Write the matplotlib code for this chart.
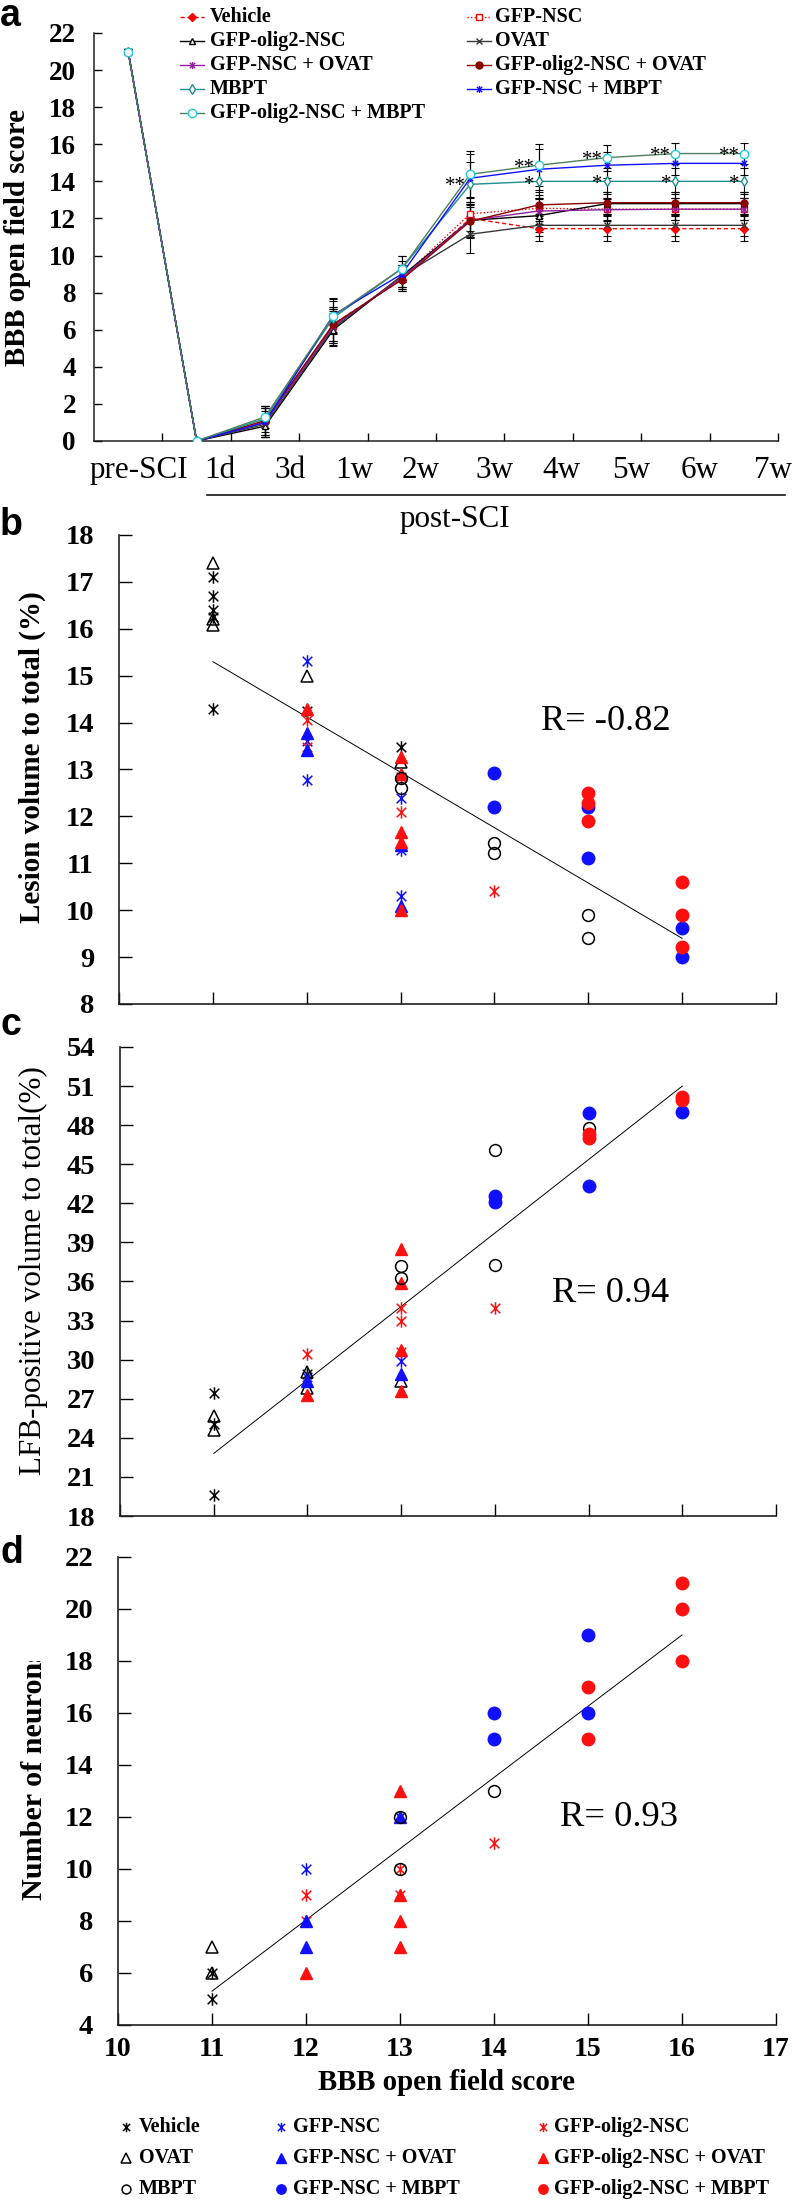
import numpy as np
import matplotlib
matplotlib.use('Agg')
import matplotlib.pyplot as plt
from matplotlib.path import Path
from matplotlib.lines import Line2D
from matplotlib.transforms import Bbox

plt.rcParams['font.family'] = ['Liberation Serif', 'DejaVu Serif']

W, H, DPI = 793, 2200, 100

# ---------------- Panel a data ----------------
timepoints = ['pre-SCI', '1d', '3d', '1w', '2w', '3w', '4w', '5w', '6w', '7w']
groups = ['Vehicle', 'GFP-NSC', 'GFP-olig2-NSC', 'OVAT', 'GFP-NSC + OVAT',
          'GFP-olig2-NSC + OVAT', 'MBPT', 'GFP-NSC + MBPT', 'GFP-olig2-NSC + MBPT']

bbb_vehicle = [21, 0, 1.0, 6.3, 8.7, 12.0, 11.45, 11.45, 11.45, 11.45]
bbb_nsc = [21, 0, 1.1, 6.2, 8.8, 12.25, 12.55, 12.5, 12.5, 12.5]
bbb_olig2 = [21, 0, 0.8, 6.0, 8.9, 11.9, 12.15, 12.8, 12.8, 12.8]
bbb_ovat = [21, 0, 0.9, 6.1, 8.9, 11.15, 11.63, 11.63, 11.63, 11.63]
bbb_nsc_ovat = [21, 0, 1.0, 6.2, 8.8, 11.9, 12.4, 12.47, 12.5, 12.5]
bbb_olig2_ovat = [21, 0, 1.1, 6.3, 8.7, 11.85, 12.73, 12.85, 12.85, 12.85]
bbb_mbpt = [21, 0, 1.2, 6.65, 9.3, 13.84, 14.0, 14.0, 14.0, 14.0]
bbb_nsc_mbpt = [21, 0, 1.0, 6.8, 9.0, 14.17, 14.65, 14.87, 14.97, 14.97]
bbb_olig2_mbpt = [21, 0, 1.3, 6.75, 9.3, 14.38, 14.87, 15.28, 15.5, 15.5]

err_vehicle = [0.15, 0, 0.8, 0.9, 0.6, 0.9, 0.67, 0.67, 0.67, 0.67]
err_nsc = [0.15, 0, 0.8, 0.9, 0.6, 0.9, 0.7, 0.6, 0.6, 0.6]
err_olig2 = [0.15, 0, 0.6, 0.9, 0.6, 0.9, 0.9, 0.6, 0.6, 0.6]
err_ovat = [0.15, 0, 0.7, 0.9, 0.6, 1.0, 0.6, 0.6, 0.6, 0.6]
err_nsc_ovat = [0.15, 0, 0.8, 0.9, 0.6, 0.9, 0.7, 0.6, 0.6, 0.6]
err_olig2_ovat = [0.15, 0, 0.8, 0.9, 0.6, 0.9, 0.7, 0.6, 0.6, 0.6]
err_mbpt = [0.15, 0, 0.7, 0.9, 0.7, 1.2, 0.9, 0.7, 0.7, 0.7]
err_nsc_mbpt = [0.15, 0, 0.8, 0.9, 0.7, 1.3, 1.1, 0.7, 0.6, 0.6]
err_olig2_mbpt = [0.15, 0, 0.6, 0.9, 0.7, 1.27, 1.13, 0.7, 0.55, 0.55]

# significance marks (timepoint index, y position)
star2_idx = [5, 6, 7, 8, 9]
star2_y = [14.0, 15.0, 15.45, 15.65, 15.65]
star1_idx = [6, 7, 8, 9]
star1_y = [14.1, 14.15, 14.15, 14.15]

# ---------------- Panel b data (lesion volume %) ----------------
b_vehicle_x = [11, 11, 11, 11, 11, 12, 13]
b_vehicle_y = [17.11, 16.7, 16.4, 16.26, 14.3, 14.25, 13.49]
b_nsc_x = [12, 12, 12, 13, 13, 13]
b_nsc_y = [15.31, 13.6, 12.78, 12.39, 11.28, 10.3]
b_olig2_x = [12, 12, 13, 13, 14]
b_olig2_y = [14.05, 13.47, 12.85, 12.1, 10.4]
b_ovat_x = [11, 11, 11, 12, 13]
b_ovat_y = [17.4, 16.2, 16.08, 15.0, 13.17]
b_nsc_ovat_x = [12, 12, 13, 13]
b_nsc_ovat_y = [13.78, 13.42, 11.39, 10.1]
b_olig2_ovat_x = [12, 13, 13, 13, 13, 13]
b_olig2_ovat_y = [14.3, 13.27, 12.9, 11.67, 11.46, 10.0]
b_mbpt_x = [13, 13, 14, 14, 15, 15]
b_mbpt_y = [12.81, 12.6, 11.43, 11.21, 9.9, 9.4]
b_nsc_mbpt_x = [14, 14, 15, 15, 16, 16]
b_nsc_mbpt_y = [12.92, 12.21, 12.19, 11.11, 9.61, 9.0]
b_olig2_mbpt_x = [15, 15, 15, 16, 16, 16]
b_olig2_mbpt_y = [12.5, 12.28, 11.91, 10.61, 9.9, 9.22]
fit_b = (-1.18, 28.28)
r_b = 'R= -0.82'

# ---------------- Panel c data (LFB-positive volume %) ----------------
c_vehicle_x = [11, 11, 11, 12]
c_vehicle_y = [27.47, 25.1, 19.6, 28.9]
c_nsc_x = [12, 13]
c_nsc_y = [28.67, 29.9]
c_olig2_x = [12, 13, 13, 13, 14]
c_olig2_y = [30.45, 34.0, 32.95, 30.6, 33.95]
c_ovat_x = [11, 11, 12, 12, 13]
c_ovat_y = [25.7, 24.6, 29.05, 27.8, 28.4]
c_nsc_ovat_x = [12, 13]
c_nsc_ovat_y = [28.4, 28.9]
c_olig2_ovat_x = [12, 13, 13, 13, 13]
c_olig2_ovat_y = [27.27, 38.5, 35.9, 30.75, 27.6]
c_mbpt_x = [13, 13, 14, 14, 15]
c_mbpt_y = [37.2, 36.3, 46.1, 37.3, 47.8]
c_nsc_mbpt_x = [14, 14, 15, 15, 16]
c_nsc_mbpt_y = [42.6, 42.1, 48.95, 43.3, 49.0]
c_olig2_mbpt_x = [15, 15, 16, 16]
c_olig2_mbpt_y = [47.3, 47.0, 50.17, 49.9]
fit_c = (5.64, -39.24)
r_c = 'R= 0.94'

# ---------------- Panel d data (number of neurons) ----------------
d_vehicle_x = [11, 11]
d_vehicle_y = [6, 5]
d_nsc_x = [12, 13]
d_nsc_y = [10, 12]
d_olig2_x = [12, 12, 13, 13, 14]
d_olig2_y = [9, 8, 10, 9, 11]
d_ovat_x = [11, 11]
d_ovat_y = [7, 6]
d_nsc_ovat_x = [12, 12, 13]
d_nsc_ovat_y = [8, 7, 12]
d_olig2_ovat_x = [12, 13, 13, 13, 13]
d_olig2_ovat_y = [6, 13, 9, 8, 7]
d_mbpt_x = [13, 13, 14]
d_mbpt_y = [12, 10, 13]
d_nsc_mbpt_x = [14, 14, 15, 15]
d_nsc_mbpt_y = [16, 15, 19, 16]
d_olig2_mbpt_x = [15, 15, 16, 16, 16]
d_olig2_mbpt_y = [17, 15, 21, 20, 18]
fit_d = (2.74, -24.84)
r_d = 'R= 0.93'

fit_range = [11, 16]

# ---------------- helpers ----------------
def fx(px):
    return px / W


def fy(py):
    return 1 - py / H


def add_axes(l, r, t, b):
    return fig.add_axes([fx(l), fy(b), (r - l) / W, (b - t) / H])


AST = Path([(-1, -1), (1, 1), (-1, 1), (1, -1), (0, -1.3), (0, 1.3)],
           [Path.MOVETO, Path.LINETO, Path.MOVETO, Path.LINETO, Path.MOVETO, Path.LINETO])

fig = plt.figure(figsize=(W / DPI, H / DPI), dpi=DPI)
fig.patch.set_facecolor('white')
renderer = fig.canvas.get_renderer()


def fit_text(t, target, vertical=False):
    """Scale a text's font so that its rendered length matches target pixels."""
    for _ in range(2):
        bb = t.get_window_extent(renderer)
        cur = bb.height if vertical else bb.width
        if cur > 0:
            t.set_fontsize(t.get_fontsize() * target / cur)


# ================= Panel a =================
axa = add_axes(94, 778, 33, 441)
series_a = [bbb_vehicle, bbb_nsc, bbb_olig2, bbb_ovat, bbb_nsc_ovat,
            bbb_olig2_ovat, bbb_mbpt, bbb_nsc_mbpt, bbb_olig2_mbpt]
errs_a = [err_vehicle, err_nsc, err_olig2, err_ovat, err_nsc_ovat,
          err_olig2_ovat, err_mbpt, err_nsc_mbpt, err_olig2_mbpt]
styles_a = [
    dict(color='#ff0000', ls=(0, (3, 2)), marker='D', ms=4, mfc='#ff0000', mec='#ff0000'),
    dict(color='#ff0000', ls=(0, (1, 1.5)), marker='s', ms=5, mfc='white', mec='#ff0000'),
    dict(color='#000000', ls='-', marker='^', ms=5, mfc='white', mec='#000000'),
    dict(color='#3a3a3a', ls='-', marker='x', ms=4, mfc='none', mec='#3a3a3a'),
    dict(color='#8e1f9e', ls='-', marker=AST, ms=5, mfc='none', mec='#8e1f9e'),
    dict(color='#8b0000', ls='-', marker='o', ms=5, mfc='#8b0000', mec='#8b0000'),
    dict(color='#1f8f8f', ls='-', marker='d', ms=5, mfc='white', mec='#1f8f8f'),
    dict(color='#1010ff', ls='-', marker=AST, ms=5, mfc='none', mec='#1010ff'),
    dict(color='#4f7f5f', ls='-', marker='o', ms=6, mfc='white', mec='#20d0e0'),
]
xpos = np.arange(len(timepoints)) + 0.5
for vals, err in zip(series_a, errs_a):
    axa.errorbar(xpos, vals, yerr=err, fmt='none', ecolor='black', elinewidth=0.8,
                 capsize=3, capthick=0.8, zorder=2)
for vals, st in zip(series_a, styles_a):
    axa.plot(xpos, vals, lw=1.0, mew=1.0, zorder=3, **st)

for i, yv in zip(star2_idx, star2_y):
    axa.text(xpos[i] - 0.06, yv - 0.3, '**', ha='right', va='center', fontsize=15, zorder=4)
for i, yv in zip(star1_idx, star1_y):
    axa.text(xpos[i] - 0.06, yv - 0.3, '*', ha='right', va='center', fontsize=15, zorder=4)

axa.set_xlim(0, len(timepoints))
axa.set_ylim(0, 22)
axa.set_yticks(np.arange(0, 23, 2))
axa.set_xticks(np.arange(1, len(timepoints) + 1))
axa.set_xticklabels([])

# size of time labels fitted to the reference width of "pre-SCI" (99 px)
probe = fig.text(0, 0, timepoints[0], fontsize=20)
fit_text(probe, 99)
tp_size = probe.get_fontsize()
probe.remove()

label_pos = [0.66, 1.84, 2.87, 3.8, 4.77, 5.85, 6.84, 7.85, 8.86, 9.93]
axa.set_xticks(label_pos, minor=True)
axa.set_xticklabels(timepoints, minor=True, fontsize=tp_size)
axa.tick_params(axis='x', which='minor', length=0, pad=11)
axa.tick_params(axis='x', which='major', direction='in', length=6, width=1)
axa.tick_params(axis='y', direction='in', length=6, width=1, pad=13, labelsize=19.5)
for lab in axa.get_yticklabels():
    lab.set_fontweight('bold')
for sp in ['top', 'right']:
    axa.spines[sp].set_visible(False)
for sp in ['left', 'bottom']:
    axa.spines[sp].set_linewidth(1.1)
    axa.spines[sp].set_color('#202020')

ta = fig.text(fx(18), fy(238), 'BBB open field score', rotation=90, ha='center', va='center',
              fontsize=19, fontweight='bold')
fit_text(ta, 257, vertical=True)

# legend for panel a (manual)
leg_left = [0, 2, 4, 6, 8]
leg_right = [1, 3, 5, 7]
rows_y = [17, 41, 65, 89, 113]
probe = fig.text(0, 0, 'Vehicle', fontsize=14, fontweight='bold')
fit_text(probe, 62)
leg_a_size = probe.get_fontsize()
probe.remove()
for col_idx, (hx0, tx) in zip([leg_left, leg_right], [(180, 210), (467, 495)]):
    for r, gi in enumerate(col_idx):
        st = dict(styles_a[gi])
        yy = fy(rows_y[r])
        ln = Line2D([fx(hx0), fx(hx0 + 12), fx(hx0 + 24)], [yy, yy, yy], transform=fig.transFigure,
                    lw=1.0, mew=1.0, markevery=[1], **st)
        fig.add_artist(ln)
        fig.text(fx(tx), yy, groups[gi], ha='left', va='center', fontsize=leg_a_size,
                 fontweight='bold')

# post-SCI bracket
fig.add_artist(Line2D([fx(207), fx(785)], [fy(495), fy(495)], transform=fig.transFigure,
                      color='black', lw=1.1))
fig.text(fx(455), fy(520), 'post-SCI', ha='center', va='center', fontsize=tp_size)

# ================= Scatter panels =================
scatter_styles = [
    dict(marker=AST, color='black', mfc='none', ms=9, mew=1.1),
    dict(marker=AST, color='#1010ff', mfc='none', ms=9, mew=1.1),
    dict(marker=AST, color='#ff1010', mfc='none', ms=9, mew=1.1),
    dict(marker='^', color='black', mfc='none', ms=9, mew=1.1),
    dict(marker='^', color='#1010ff', mfc='#1010ff', ms=9, mew=1.0),
    dict(marker='^', color='#ff1010', mfc='#ff1010', ms=9, mew=1.0),
    dict(marker='o', color='black', mfc='none', ms=8.5, mew=1.1),
    dict(marker='o', color='#1010ff', mfc='#1010ff', ms=9, mew=1.0),
    dict(marker='o', color='#ff1010', mfc='#ff1010', ms=9, mew=1.0),
]

panels = [
    dict(box=(119, 776, 535, 1004), ylim=(8, 18), yticks=np.arange(8, 19, 1),
         data=[(b_vehicle_x, b_vehicle_y), (b_nsc_x, b_nsc_y), (b_olig2_x, b_olig2_y),
               (b_ovat_x, b_ovat_y), (b_nsc_ovat_x, b_nsc_ovat_y), (b_olig2_ovat_x, b_olig2_ovat_y),
               (b_mbpt_x, b_mbpt_y), (b_nsc_mbpt_x, b_nsc_mbpt_y), (b_olig2_mbpt_x, b_olig2_mbpt_y)],
         fit=fit_b, rtext=r_b, rpos=(606, 722), rlen=130, letter='b', lpos=535,
         ylabel='Lesion volume to total (%)', ylpos=(32, 757), ylw='bold', ylen=332),
    dict(box=(120, 776, 1047, 1516), ylim=(18, 54), yticks=np.arange(18, 55, 3),
         data=[(c_vehicle_x, c_vehicle_y), (c_nsc_x, c_nsc_y), (c_olig2_x, c_olig2_y),
               (c_ovat_x, c_ovat_y), (c_nsc_ovat_x, c_nsc_ovat_y), (c_olig2_ovat_x, c_olig2_ovat_y),
               (c_mbpt_x, c_mbpt_y), (c_nsc_mbpt_x, c_nsc_mbpt_y), (c_olig2_mbpt_x, c_olig2_mbpt_y)],
         fit=fit_c, rtext=r_c, rpos=(611, 1293), rlen=117, letter='c', lpos=1035,
         ylabel='LFB-positive volume to total(%)', ylpos=(33, 1271), ylw='normal', ylen=408),
    dict(box=(118, 776, 1557, 2025), ylim=(4, 22), yticks=np.arange(4, 23, 2),
         data=[(d_vehicle_x, d_vehicle_y), (d_nsc_x, d_nsc_y), (d_olig2_x, d_olig2_y),
               (d_ovat_x, d_ovat_y), (d_nsc_ovat_x, d_nsc_ovat_y), (d_olig2_ovat_x, d_olig2_ovat_y),
               (d_mbpt_x, d_mbpt_y), (d_nsc_mbpt_x, d_nsc_mbpt_y), (d_olig2_mbpt_x, d_olig2_mbpt_y)],
         fit=fit_d, rtext=r_d, rpos=(619, 1818), rlen=118, letter='d', lpos=1563,
         ylabel='Number of neurons', ylpos=(35, 1775), ylw='bold', ylen=250),
]

for k, p in enumerate(panels):
    l, r, t, b = p['box']
    ax = add_axes(l, r, t, b)
    for (xs, ys), st in zip(p['data'], scatter_styles):
        ax.plot(xs, ys, ls='none', zorder=3, clip_on=False, **st)
    slope, icpt = p['fit']
    xf = np.array(fit_range, dtype=float)
    ax.plot(xf, slope * xf + icpt, color='black', lw=0.7, zorder=2)
    ax.set_xlim(10, 17)
    ax.set_ylim(*p['ylim'])
    ax.set_yticks(p['yticks'])
    ax.set_xticks(np.arange(10, 18, 1))
    ax.tick_params(axis='both', direction='in', length=9, width=1)
    ax.tick_params(axis='y', pad=18, labelsize=20.5)
    ax.tick_params(axis='x', pad=9, labelsize=20)
    for lab in ax.get_yticklabels() + ax.get_xticklabels():
        lab.set_fontweight('bold')
    if k < 2:
        ax.set_xticklabels([])
    for sp in ['top', 'right']:
        ax.spines[sp].set_visible(False)
    for sp in ['left', 'bottom']:
        ax.spines[sp].set_linewidth(1.2)
        ax.spines[sp].set_color('#202020')
    tr = fig.text(fx(p['rpos'][0]), fy(p['rpos'][1]), p['rtext'], ha='center', va='center',
                  fontsize=25)
    fit_text(tr, p['rlen'])
    fig.text(0.0, fy(p['lpos']), p['letter'], ha='left', va='baseline', fontsize=27,
             fontweight='bold', family=['Liberation Sans', 'DejaVu Sans'])
    t_ = fig.text(fx(p['ylpos'][0]), fy(p['ylpos'][1]), p['ylabel'], rotation=90, ha='center',
                  va='center', fontsize=20, fontweight=p['ylw'])
    fit_text(t_, p['ylen'], vertical=True)
    if k == 2:
        t_.set_clip_on(True)
        t_.set_clip_box(Bbox.from_extents(0, 0, W, H - 1661))

fig.text(0.0, fy(26), 'a', ha='left', va='baseline', fontsize=27, fontweight='bold',
         family=['Liberation Sans', 'DejaVu Sans'])

tx_ = fig.text(fx(447), fy(2082), 'BBB open field score', ha='center', va='center', fontsize=19,
               fontweight='bold')
fit_text(tx_, 257)

# bottom legend (manual)
leg_cols_marker = [126, 281, 543]
leg_cols_text = [139, 293, 554]
leg_rows = [2127, 2158, 2189]
for gi, name in enumerate(groups):
    rr, cc = divmod(gi, 3)
    st = dict(scatter_styles[gi])
    st['ms'] = st['ms'] * 0.75
    fig.add_artist(Line2D([fx(leg_cols_marker[cc])], [fy(leg_rows[rr])], transform=fig.transFigure,
                          ls='none', **st))
    fig.text(fx(leg_cols_text[cc]), fy(leg_rows[rr]), name, ha='left', va='center', fontsize=14.5,
             fontweight='bold')

fig.savefig('out.png', dpi=DPI, facecolor='white')
